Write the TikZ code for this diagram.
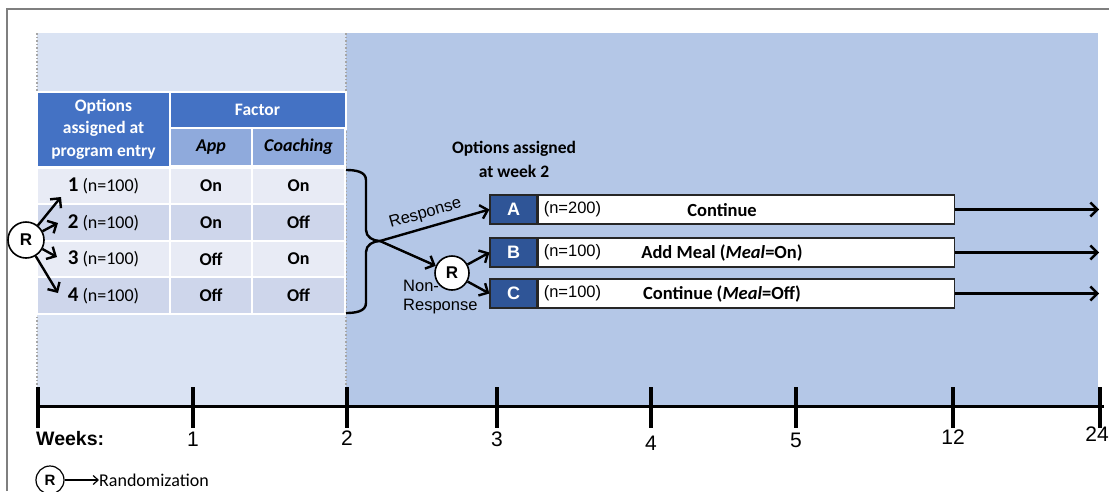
\documentclass[tikz,border=0pt]{standalone}
\usepackage{fontspec}
\setmainfont{Carlito}
\newfontfamily\arial{Liberation Sans}
\usetikzlibrary{arrows.meta}
\definecolor{panelL}{HTML}{DAE3F3}
\definecolor{panelD}{HTML}{B4C7E7}
\definecolor{hdr}{HTML}{4472C4}
\definecolor{subhdr}{HTML}{8FAADC}
\definecolor{rowA}{HTML}{E8EBF5}
\definecolor{rowB}{HTML}{CED6EB}
\definecolor{lbl}{HTML}{2F5597}
\definecolor{frame}{HTML}{7F7F7F}
\begin{document}
\begin{tikzpicture}[x=1pt,y=-1pt,
  font=\fontsize{18}{21}\selectfont,
  cell/.style={rectangle, draw=white, line width=2pt, inner sep=0pt, align=center},
  hcell/.style={cell, fill=hdr, text=white, font=\bfseries\fontsize{17.5}{22.5}\selectfont},
  scell/.style={cell, fill=subhdr, font=\bfseries\itshape\fontsize{18}{21}\selectfont},
  onoff/.style={font=\bfseries\fontsize{18}{21}\selectfont},
  rcircle/.style={circle, draw=black, line width=1.6pt, fill=white, minimum size=36pt, inner sep=0pt, font=\arial\bfseries\fontsize{17}{17}\selectfont},
  arr/.style={line width=2.4pt, -{Straight Barb[length=7pt,width=14pt]}},
  sarr/.style={line width=2.4pt, -{Straight Barb[length=7pt,width=14pt]}},
  lblbox/.style={rectangle, fill=lbl, draw=black!85, line width=1.2pt, minimum width=47pt, minimum height=29pt, inner sep=0pt, text=white, font=\arial\bfseries\fontsize{18}{18}\selectfont},
  wbox/.style={rectangle, fill=white, draw=black!85, line width=1.2pt, minimum width=416pt, minimum height=29pt, inner sep=0pt},
  ntext/.style={font=\arial\fontsize{16.5}{19}\selectfont, inner sep=0pt},
  btext/.style={font=\bfseries\fontsize{18.5}{21}\selectfont, inner sep=0pt},
  wk/.style={font=\arial\fontsize{21}{21}\selectfont},
  tick/.style={line width=3.2pt}
]
\useasboundingbox (0,0) rectangle (1109,491);
% frame
\draw[frame, line width=1.5pt] (7,491) -- (7,9) -- (1109,9);
% panels
\fill[panelL] (37,33) rectangle (346,405);
\fill[panelD] (346,33) rectangle (1098,405);
\draw[gray!70, line width=1.5pt, dotted] (37,33) -- (37,405);
\draw[gray!70, line width=1.5pt, dotted] (346,33) -- (346,405);

% table header
\node[hcell, minimum width=133pt, minimum height=75pt] (hopt) at (103.5,129) {Options\\assigned at\\program entry};
\node[hcell, minimum width=176pt, minimum height=37pt] (hfac) at (257.5,110) {Factor};
\node[scell, minimum width=82pt, minimum height=38pt] (happ) at (211,147) {App};
\node[scell, minimum width=93pt, minimum height=38pt] (hcoa) at (298.5,147) {Coaching};
% rows
\node[cell, fill=rowA, minimum width=133pt, minimum height=36.5pt] (r1) at (103.5,186) {\textbf{\fontsize{21}{21}\selectfont 1} (n=100)};
\node[cell, fill=rowA, minimum width=82pt, minimum height=36.5pt, onoff] (r1a) at (211,186) {On};
\node[cell, fill=rowA, minimum width=93pt, minimum height=36.5pt, onoff] (r1c) at (298.5,186) {On};
\node[cell, fill=rowB, minimum width=133pt, minimum height=36.5pt] (r2) at (103.5,222.5) {\textbf{\fontsize{21}{21}\selectfont 2} (n=100)};
\node[cell, fill=rowB, minimum width=82pt, minimum height=36.5pt, onoff] (r2a) at (211,222.5) {On};
\node[cell, fill=rowB, minimum width=93pt, minimum height=36.5pt, onoff] (r2c) at (298.5,222.5) {Off};
\node[cell, fill=rowA, minimum width=133pt, minimum height=36.5pt] (r3) at (103.5,259) {\textbf{\fontsize{21}{21}\selectfont 3} (n=100)};
\node[cell, fill=rowA, minimum width=82pt, minimum height=36.5pt, onoff] (r3a) at (211,259) {Off};
\node[cell, fill=rowA, minimum width=93pt, minimum height=36.5pt, onoff] (r3c) at (298.5,259) {On};
\node[cell, fill=rowB, minimum width=133pt, minimum height=36.5pt] (r4) at (103.5,295.5) {\textbf{\fontsize{21}{21}\selectfont 4} (n=100)};
\node[cell, fill=rowB, minimum width=82pt, minimum height=36.5pt, onoff] (r4a) at (211,295.5) {Off};
\node[cell, fill=rowB, minimum width=93pt, minimum height=36.5pt, onoff] (r4c) at (298.5,295.5) {Off};

% entry randomization
\node[rcircle] (R1) at (26,240) {R};
\coordinate (e1) at (61,197);
\coordinate (e2) at (58,223);
\coordinate (e3) at (57,257);
\coordinate (e4) at (58,293);
\draw[sarr] (R1) -- (e1);
\draw[sarr] (R1) -- (e2);
\draw[sarr] (R1) -- (e3);
\draw[sarr] (R1) -- (e4);

% brace
\coordinate (brtip) at (380,241);
\draw[line width=2.4pt, line join=round] (346,170) to[out=0,in=90] (366,180) -- (366,230) to[out=-90,in=180] (brtip) to[out=180,in=90] (366,252) -- (366,303) to[out=-90,in=0] (346,313);

% week 2 options
\node[btext, align=center, font=\bfseries\fontsize{17.5}{24}\selectfont] (wk2) at (514,159) {Options assigned\\at week 2};

\node[lblbox] (Al) at (513.5,209.5) {A};
\node[wbox, anchor=west] (Aw) at (Al.east) {};
\node[lblbox] (Bl) at (513.5,252.5) {B};
\node[wbox, anchor=west] (Bw) at (Bl.east) {};
\node[lblbox] (Cl) at (513.5,293.5) {C};
\node[wbox, anchor=west] (Cw) at (Cl.east) {};
\node[ntext, anchor=west] (An) at ([xshift=6pt]Aw.west) {(n=200)};
\node[ntext, anchor=west] (Bn) at ([xshift=6pt]Bw.west) {(n=100)};
\node[ntext, anchor=west] (Cn) at ([xshift=6pt]Cw.west) {(n=100)};
\node[btext] (At) at (722,210) {Continue};
\node[btext] (Bt) at (722,253) {Add Meal (\textit{Meal}=On)};
\node[btext] (Ct) at (722,294) {Continue (\textit{Meal}=Off)};

\coordinate (Ae) at (1099,209.5);
\coordinate (Be) at (1099,252.5);
\coordinate (Ce) at (1099,293.5);
\draw[arr] (Aw.east) -- (Ae);
\draw[arr] (Bw.east) -- (Be);
\draw[arr] (Cw.east) -- (Ce);

% second randomization
\node[rcircle, minimum size=34pt] (R2) at (452,273) {R};
\draw[arr] (brtip) -- node[ntext, sloped, above=5pt, pos=0.45] (resp) {Response} (Al.west);
\draw[arr] (brtip) -- (R2);
\draw[sarr] (R2) -- (Bl.west);
\draw[sarr] (R2) -- (Cl.west);
\node[ntext, anchor=north west, align=left] (nonresp) at (403,280) {Non-\\Response};

% time axis
\draw[line width=3pt] (38,406) -- (1104,406);
\foreach \x in {38,193,347,497,651,796,953,1100}
  \draw[tick] (\x,387) -- (\x,428);
\node[font=\arial\bfseries\fontsize{19.5}{19.5}\selectfont, anchor=west, inner sep=0pt] (weeks) at (36,439) {Weeks:};
\node[wk] (w1) at (193,439) {1};
\node[wk] (w2) at (347,438) {2};
\node[wk] (w3) at (497,439) {3};
\node[wk] (w4) at (651,443) {4};
\node[wk] (w5) at (796,440) {5};
\node[wk] (w12) at (953,437) {12};
\node[wk] (w24) at (1097,434) {24};

% legend
\node[rcircle, minimum size=28pt, line width=1.2pt, font=\arial\bfseries\fontsize{15}{15}\selectfont] (Rleg) at (50,480) {R};
\node[anchor=west, inner sep=0pt, font=\fontsize{18}{18}\selectfont] (legtxt) at (99,480) {Randomization};
\draw[line width=1.2pt, -{Straight Barb[length=5pt,width=9pt]}] (Rleg) -- (legtxt.west);
\end{tikzpicture}
\end{document}
